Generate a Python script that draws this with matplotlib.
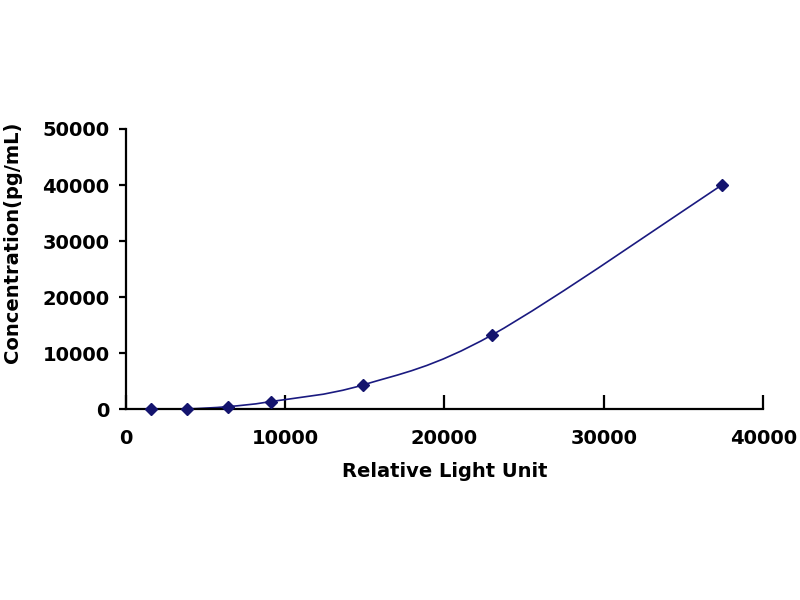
import matplotlib
matplotlib.use("Agg")
import matplotlib.pyplot as plt
from matplotlib.path import Path
from matplotlib.patches import PathPatch
import numpy as np

# Data
rlu = [1600, 3850, 6400, 9100, 14900, 23000, 37400]
conc = [0, 50, 460, 1360, 4340, 13270, 40000]
x_ticks = [0, 10000, 20000, 30000, 40000]
y_ticks = [0, 10000, 20000, 30000, 40000, 50000]

plt.rcParams['font.family'] = ['DejaVu Sans']

fig = plt.figure(figsize=(8, 6), dpi=100)
ax = fig.add_axes([0.157, 0.318, 0.797, 0.467])

# Smoothed line (Catmull-Rom as cubic Bezier, like spreadsheet smoothing)
pts = np.column_stack([rlu, conc]).astype(float)
verts = [tuple(pts[0])]
codes = [Path.MOVETO]
n = len(pts)
for i in range(n - 1):
    p0 = pts[i - 1] if i > 0 else pts[i]
    p1 = pts[i]
    p2 = pts[i + 1]
    p3 = pts[i + 2] if i + 2 < n else pts[i + 1]
    c1 = p1 + (p2 - p0) / 6.0
    c2 = p2 - (p3 - p1) / 6.0
    verts += [tuple(c1), tuple(c2), tuple(p2)]
    codes += [Path.CURVE4] * 3
ax.add_patch(PathPatch(Path(verts, codes), facecolor='none', edgecolor='#1a1a80', lw=1.2, zorder=2))

ax.plot(rlu, conc, linestyle='none', marker='D', markersize=6.5,
        color='#14146e', zorder=3, clip_on=False)

ax.set_xlim(0, 40000)
ax.set_ylim(0, 50000)
ax.set_xticks(x_ticks)
ax.set_yticks(y_ticks)
ax.set_xticklabels([str(v) for v in x_ticks], fontsize=14, fontweight='bold')
ax.set_yticklabels([str(v) for v in y_ticks], fontsize=14, fontweight='bold')

for s in ['top', 'right']:
    ax.spines[s].set_visible(False)
for s in ['left', 'bottom']:
    ax.spines[s].set_linewidth(1.6)
    ax.spines[s].set_color('black')

ax.tick_params(axis='x', direction='in', length=10, width=1.6, pad=14)
ax.tick_params(axis='y', direction='out', length=5, width=1.6, pad=6.5)

ax.set_xlabel('Relative Light Unit', fontsize=14, fontweight='bold', labelpad=10)
ax.set_ylabel('Concentration(pg/mL)', fontsize=14, fontweight='bold')
ax.yaxis.set_label_coords(-0.163, 0.594)

fig.savefig('out.png', dpi=100, facecolor='white')
